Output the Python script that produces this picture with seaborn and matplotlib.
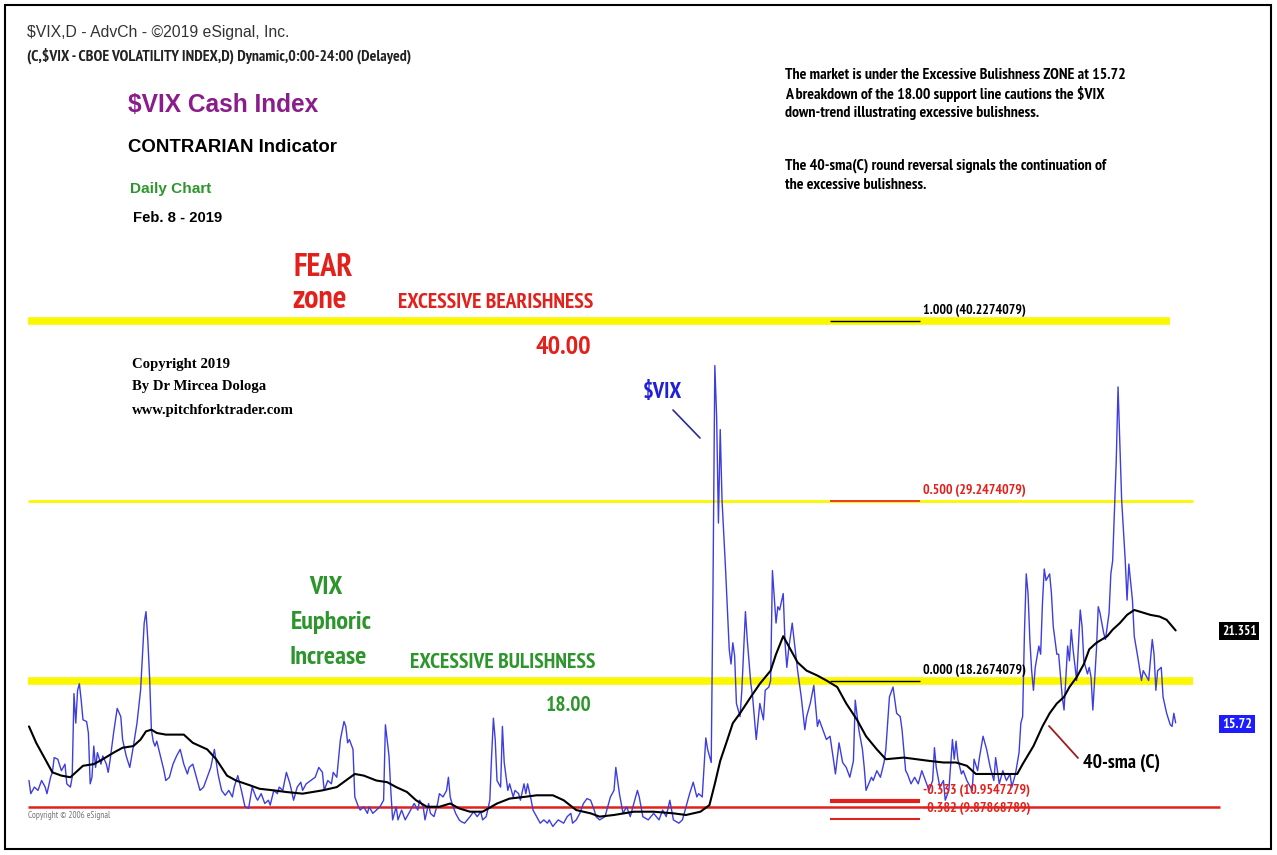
import matplotlib
matplotlib.use("Agg")
import matplotlib.pyplot as plt
from matplotlib.lines import Line2D
from matplotlib.patches import Rectangle
import pandas as pd
import seaborn as sns

# $VIX daily closes, x = trading day counted from early Aug 2016
vix_day = [0, 1, 3, 5, 7, 9, 10, 12, 13, 14, 16, 18, 20, 21, 23, 24, 25, 26, 27, 28,
           29, 30, 32, 33, 34, 35, 36, 37, 38, 40, 41, 43, 44, 45, 47, 49, 51, 52, 54, 56,
           58, 60, 62, 63, 64, 65, 66, 67, 68, 69, 70, 71, 73, 75, 76, 78, 80, 82, 84, 86,
           88, 89, 91, 93, 95, 97, 99, 101, 103, 105, 107, 109, 111, 113, 114, 116, 118, 120, 122, 124,
           126, 127, 129, 131, 133, 134, 136, 138, 139, 141, 143, 145, 147, 149, 151, 152, 154,
           159, 161, 163, 164, 166, 168, 169, 171, 173, 175, 176, 177, 178, 180, 181, 183, 184, 186, 188, 189,
           191, 193, 195, 197, 198, 200, 201, 202, 204, 205, 207, 209, 211, 213, 214, 216, 217, 219, 220, 222,
           223, 225, 227, 228, 230, 232, 233, 234, 235, 237, 239, 240, 242, 245, 247, 249, 251, 252, 254, 256,
           257, 258, 259, 260, 262, 263, 264, 266, 267, 269, 270, 272, 273, 275, 276, 277, 279, 280, 282, 284,
           286, 288, 289, 291, 294, 297, 299, 301, 302, 304, 306, 308, 310, 312, 314, 315, 317,
           320, 323, 325, 326, 328, 330, 332, 334, 336, 338, 339, 341, 344, 347, 350, 352, 354, 356, 358, 361,
           363, 365, 367, 369, 371, 372, 374, 376, 377, 379, 380, 381, 382, 383, 384, 385, 387, 389, 390, 391,
           392, 393, 395, 396, 398, 399, 401, 402, 404, 406, 408, 409, 411, 412, 413, 415, 416, 417, 419, 420,
           421, 422, 424, 425, 427, 429, 431, 432, 434, 436, 438, 439, 441, 443, 445, 447, 448, 450, 452, 454,
           456, 458, 459, 461, 463, 464, 465, 468, 469, 471, 473, 475, 476,
           478, 480, 482, 484, 485, 487, 488, 490, 492, 494, 496, 498, 500, 502, 503, 504, 506, 508, 509, 511,
           513, 514, 515, 516, 518, 519, 521, 522, 524, 525, 527, 528, 530, 532, 534, 536, 537, 539, 541, 543,
           545, 546, 548, 550, 551, 552, 553, 554, 555, 556, 557, 558, 559, 561, 562, 563, 564, 565, 567, 568,
           569, 571, 572, 574, 575, 577, 578, 579, 580, 582, 584, 585, 586, 588, 589, 590, 591, 593, 594, 595,
           597, 598, 600, 601, 602, 603, 604, 605, 606, 607, 609, 610, 611, 613, 614, 616, 618, 619, 620, 622,
           624, 625, 626, 627, 629, 630, 632, 634, 635, 636, 637]
vix_close = [12.2, 11.4, 11.8, 11.6, 12.2, 11.8, 11.4, 12.4, 12.7, 13.6, 13.5, 12.8, 13.2, 12.0, 11.8, 12.4, 17.5, 15.7, 17.7, 18.1,
             17.1, 15.9, 15.8, 15.1, 12.0, 12.4, 14.3, 13.0, 13.9, 13.2, 13.7, 13.2, 12.7, 13.4, 15.1, 16.6, 16.1, 14.7, 13.7, 13.0,
             14.3, 15.7, 17.7, 19.8, 21.8, 22.5, 20.8, 18.5, 15.3, 14.6, 14.3, 14.6, 13.7, 12.8, 12.2, 12.4, 13.2, 13.7, 14.1, 13.2,
             12.6, 13.0, 13.2, 12.4, 11.6, 11.8, 12.4, 13.0, 14.1, 12.6, 11.6, 11.3, 11.6, 11.2, 11.8, 12.5, 11.6, 10.6, 10.5, 11.8,
             11.2, 11.0, 11.4, 10.8, 11.0, 10.7, 11.6, 11.4, 11.8, 11.6, 12.7, 12.0, 11.0, 11.8, 12.1, 11.6, 12.0,
             12.4, 13.0, 12.7, 11.6, 12.2, 12.0, 12.7, 12.4, 14.7, 15.8, 15.5, 14.5, 14.7, 14.1, 11.2, 10.6, 10.4, 10.6, 10.2, 10.6,
             10.2, 10.4, 10.6, 11.0, 15.6, 13.7, 11.6, 9.8, 10.6, 9.8, 10.4, 9.8, 10.2, 10.6, 10.8, 10.4, 11.0, 10.6, 9.8, 10.8,
             10.2, 10.0, 10.8, 11.4, 11.2, 11.6, 12.4, 11.2, 10.8, 10.2, 9.8, 9.7, 9.6, 10.0, 10.3, 10.0, 10.3, 9.8, 10.0, 11.0,
             13.7, 16.0, 14.7, 12.2, 11.8, 15.5, 13.3, 11.6, 12.0, 11.2, 11.6, 11.4, 11.0, 12.0, 11.4, 12.0, 11.0, 10.4, 10.0, 9.6,
             9.8, 9.6, 9.8, 9.4, 9.8, 9.6, 10.0, 10.2, 9.6, 9.8, 10.2, 10.8, 11.1, 11.0, 10.4, 10.0, 9.8,
             10.0, 11.2, 11.6, 13.0, 11.4, 10.2, 10.6, 10.0, 10.8, 11.6, 11.2, 10.0, 9.8, 10.2, 9.8, 10.4, 10.0, 11.0, 9.8, 9.6,
             9.8, 10.6, 11.4, 12.1, 11.2, 11.4, 11.2, 14.8, 14.1, 13.3, 24.2, 37.5, 34.4, 27.9, 33.6, 29.3, 25.0, 20.2, 19.3, 20.6,
             19.8, 16.9, 16.1, 17.7, 22.5, 20.8, 18.1, 17.3, 14.7, 16.9, 15.9, 17.7, 17.9, 18.3, 25.0, 21.8, 22.8, 22.6, 23.6, 20.6,
             19.1, 20.2, 21.8, 20.8, 18.9, 17.3, 15.3, 16.1, 16.9, 18.0, 15.5, 15.9, 15.3, 14.7, 14.9, 13.4, 12.6, 14.5, 13.3, 13.0,
             12.4, 13.4, 17.1, 15.3, 14.1, 13.0, 11.6, 12.4, 12.2, 12.8, 12.4, 13.3, 14.1,
             17.3, 17.9, 16.3, 16.1, 15.3, 12.8, 12.6, 12.0, 12.4, 12.0, 12.8, 12.2, 11.6, 12.2, 14.2, 13.0, 11.8, 12.2, 11.0, 11.6,
             14.7, 13.5, 14.6, 13.5, 12.6, 12.8, 12.2, 12.0, 11.6, 13.5, 12.8, 13.6, 14.9, 14.1, 13.0, 12.2, 13.6, 12.0, 12.8, 12.2,
             12.6, 11.8, 12.6, 13.9, 15.7, 16.1, 21.2, 24.8, 23.6, 20.8, 18.9, 17.7, 19.1, 20.4, 19.9, 23.0, 25.1, 24.4, 24.8, 23.6,
             21.6, 19.9, 19.9, 17.3, 16.5, 20.4, 19.5, 21.4, 20.2, 18.3, 22.6, 21.6, 19.5, 18.7, 19.1, 18.5, 16.5, 20.2, 22.8, 22.4,
             21.2, 20.8, 22.4, 24.8, 25.6, 28.7, 31.7, 36.2, 32.8, 29.3, 25.6, 23.2, 25.4, 23.2, 21.0, 19.7, 18.3, 18.9, 18.7, 18.3,
             20.8, 19.9, 17.7, 18.9, 19.1, 17.3, 16.3, 15.6, 15.5, 16.3, 15.72]

# 40-day simple moving average of the close
sma_day = [0, 4, 9, 13, 18, 23, 26, 30, 36, 41, 47, 52, 58, 62, 65, 68, 71, 76, 86, 91,
           99, 104, 110, 115, 123, 128, 136, 143, 152,
           163, 171, 176, 181, 186, 193, 199, 204, 210, 215, 221, 228, 234, 239, 245, 252, 260, 267, 275, 282,
           291, 297, 304, 312, 317,
           325, 336, 347, 358, 365, 373, 378, 381, 384, 388, 391, 395, 401, 406, 412, 415, 419, 423, 427, 432,
           438, 443, 449, 454, 460, 465, 471, 476,
           486, 493, 500, 508, 515, 521, 526, 534, 541, 549, 552, 558, 563, 567, 571, 575, 578, 582, 586, 589,
           593, 599, 602, 606, 610, 614, 617, 623, 628, 632, 637]
sma_value = [15.5, 14.5, 13.5, 12.7, 12.5, 12.4, 12.7, 13.1, 13.2, 13.5, 13.9, 14.2, 14.3, 14.7, 15.2, 15.3, 15.1, 15.0, 15.0, 14.5,
             14.1, 13.5, 12.5, 12.2, 11.9, 11.7, 11.6, 11.5, 11.4,
             11.6, 11.8, 12.2, 12.6, 12.5, 12.2, 12.1, 11.8, 11.5, 11.0, 10.6, 10.6, 10.8, 10.5, 10.3, 10.3, 10.8, 11.1, 11.2, 11.3,
             11.3, 11.0, 10.4, 10.2, 10.0,
             10.1, 10.3, 10.3, 10.2, 10.1, 10.3, 10.7, 12.0, 13.4, 14.7, 15.7, 16.3, 17.3, 18.1, 18.9, 19.9, 21.0, 20.2, 19.4, 18.9,
             18.6, 18.3, 17.9, 16.9, 15.9, 14.9, 14.1, 13.5,
             13.6, 13.5, 13.4, 13.3, 13.3, 13.1, 12.6, 12.6, 12.6, 12.6, 13.2, 14.3, 15.5, 16.3, 16.9, 17.3, 17.9, 18.5, 19.3, 20.2,
             20.6, 21.0, 21.4, 21.8, 22.3, 22.6, 22.5, 22.3, 22.2, 22.0, 21.351]

fib_ratio = ["1.000", "0.500", "0.000", "-0.333", "-0.382"]
fib_level = [40.2274079, 29.2474079, 18.2674079, 10.9547279, 9.87868789]
support_level = 10.6
last_close = 15.72
last_sma = 21.351

vix = pd.DataFrame({"day": vix_day, "close": vix_close})
sma = pd.DataFrame({"day": sma_day, "sma": sma_value})

sns.set_style("white")
plt.rcParams["font.family"] = ["Liberation Sans", "DejaVu Sans"]
plt.rcParams["text.parse_math"] = False

SANS = ["Liberation Sans", "DejaVu Sans"]
NARROW = ["PT Sans Narrow", "Roboto Condensed", "Barlow Condensed", "Liberation Sans", "DejaVu Sans"]
SERIF = ["Liberation Serif", "DejaVu Serif"]

W, H = 1277, 855
YELLOW = "#fbf700"
RED = "#e3211c"
GREEN = "#2c962c"
BLUE = "#3d3de0"

fig = plt.figure(figsize=(W / 100, H / 100), dpi=100)
ax = fig.add_axes([0, 0, 1, 1])
renderer = fig.canvas.get_renderer()


def fx(px):
    return px / W


# level lines
ax.axhline(fib_level[0], xmin=fx(28), xmax=fx(1170), color=YELLOW, lw=5.5, zorder=1, solid_capstyle="butt")
ax.axhline(fib_level[1], xmin=fx(28), xmax=fx(1193), color=YELLOW, lw=2, zorder=1, solid_capstyle="butt")
ax.axhline(fib_level[2], xmin=fx(28), xmax=fx(1193), color=YELLOW, lw=5.5, zorder=1, solid_capstyle="butt")
ax.axhline(support_level, xmin=fx(28), xmax=fx(1220), color=RED, lw=1.8, zorder=1, solid_capstyle="butt")

sns.lineplot(data=vix, x="day", y="close", ax=ax, color=BLUE, lw=1.0,
             estimator=None, legend=False, zorder=3)
sns.lineplot(data=sma, x="day", y="sma", ax=ax, color="black", lw=1.5,
             estimator=None, legend=False, zorder=4)
ax.set_xlim(-16.1, 693.3)
ax.set_ylim(7.66, 59.79)
ax.axis("off")


def fit(t, width):
    # scale the font so the text spans the same width as in the reference
    w = t.get_window_extent(renderer).width
    t.set_fontsize(t.get_fontsize() * width / w)
    return t.get_fontsize()


def label(x0, x1, y, s, color="black", weight="bold", family=None, ha="left", size=None, **kw):
    xpos = x0 if ha == "left" else (x0 + x1) / 2
    t = fig.text(xpos / W, 1 - y / H, s, fontsize=size or 12, color=color, weight=weight,
                 family=family or SANS, ha=ha, va="center", **kw)
    if size is None:
        fit(t, x1 - x0)
    return t.get_fontsize()


# fibonacci labels
fib_colors = ["black", RED, "black", RED, RED]
fib_widths = [1.0, 1.2, 1.0, 3.0, 1.5]
fib_size = None
for ratio, level, c, w in zip(fib_ratio, fib_level, fib_colors, fib_widths):
    ax.axhline(level, xmin=fx(830), xmax=fx(920), color=c, lw=w, zorder=2, solid_capstyle="butt")
    t = ax.text(496.5, level + 0.25, f"{ratio} ({level})", color=c, fontsize=fib_size or 12,
                family=NARROW, weight="bold", va="bottom", ha="left")
    if fib_size is None:
        fib_size = fit(t, 103)

label(27, 289, 32, "$VIX,D - AdvCh - ©2019 eSignal, Inc.", "#333333", weight="normal")
label(27, 410, 56, "(C,$VIX - CBOE VOLATILITY INDEX,D) Dynamic,0:00-24:00 (Delayed)", "#222222",
      family=NARROW)
label(128, 318, 105, "$VIX Cash Index", "#8b1c8b")
label(128, 336, 147, "CONTRARIAN Indicator", "black")
label(130, 211, 189, "Daily Chart", GREEN)
label(133, 222, 218, "Feb. 8 - 2019", "black")

notes = ["The market is under the Excessive Bulishness ZONE at 15.72",
         "A breakdown of the 18.00 support line cautions the $VIX",
         "down-trend illustrating excessive bulishness.",
         "The 40-sma(C) round reversal signals the continuation of",
         "the excessive bulishness."]
note_size = label(785, 1124, 75, notes[0], "black", family=NARROW)
for s, y in zip(notes[1:], [94, 113, 166, 185]):
    label(785, None, y, s, "black", family=NARROW, size=note_size)

label(290, 356, 268, "FEAR", RED, family=NARROW, ha="center", size=23)
label(292, 346, 300, "zone", RED, family=NARROW, ha="center", size=23)
label(398, 592, 302, "EXCESSIVE BEARISHNESS", RED, family=NARROW)
label(536, 592, 347, "40.00", RED, family=NARROW)

for s, y in zip(["Copyright 2019", "By Dr Mircea Dologa", "www.pitchforktrader.com"], [364, 386, 410]):
    label(132, None, y, s, "black", family=SERIF, size=10.6)

label(643, 682, 392, "$VIX", "#2020d8", family=NARROW)
fig.add_artist(Line2D([673 / W, 700 / W], [1 - 410 / H, 1 - 438 / H], color="#2a2a9a", lw=1.2))

eu = label(291, 372, 622, "Euphoric", GREEN, family=NARROW, ha="center")
label(310, 342, 587, "VIX", GREEN, family=NARROW, ha="center", size=eu)
label(291, 366, 657, "Increase", GREEN, family=NARROW, ha="center", size=eu)
label(410, 594, 662, "EXCESSIVE BULISHNESS", GREEN, family=NARROW)
label(546, 592, 705, "18.00", GREEN, family=NARROW)

label(28, 110, 815, "Copyright © 2006 eSignal", "#777777", weight="normal", family=NARROW)

label(1083, 1160, 763, "40-sma (C)", "black", family=NARROW)
fig.add_artist(Line2D([1049 / W, 1078 / W], [1 - 726 / H, 1 - 758 / H], color="#a01c1c", lw=1.3))

label(1222, 1257, 631, f"{last_sma}", "white", family=NARROW,
      bbox=dict(facecolor="black", edgecolor="none", pad=2.5))
label(1222, 1252, 724, f"{last_close}", "white", family=NARROW,
      bbox=dict(facecolor="#1c1cff", edgecolor="none", pad=2.5))

fig.add_artist(Rectangle((5 / W, 1 - 849 / H), 1266 / W, 844 / H, transform=fig.transFigure,
                         fill=False, ec="black", lw=1.5))

fig.savefig("out.png", dpi=100, facecolor="white")
